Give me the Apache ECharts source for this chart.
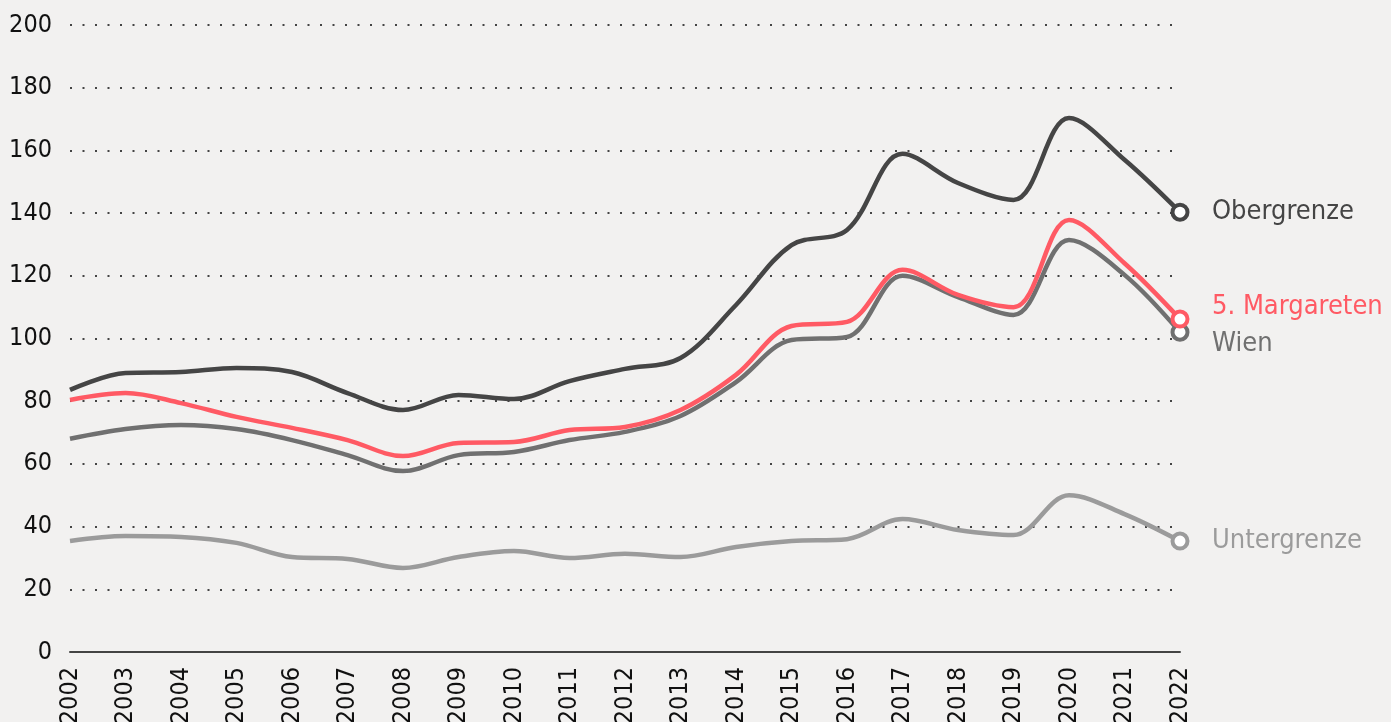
<!DOCTYPE html>
<html>
<head>
<meta charset="utf-8">
<script src="https://cdn.jsdelivr.net/npm/echarts@6/dist/echarts.min.js"></script>
<style>
  html, body { margin: 0; padding: 0; background: #f2f1f0; }
  #chart { width: 1391px; height: 722px; }
</style>
</head>
<body>
<div id="chart"></div>
<script>
const years = ["2002","2003","2004","2005","2006","2007","2008","2009","2010","2011","2012",
  "2013","2014","2015","2016","2017","2018","2019","2020","2021","2022"];

const obergrenze = [83.6, 89, 89.3, 90.6, 89.3, 82.6, 77.2, 82, 80.7, 86.4, 90.3,
  93.8, 110.7, 129.8, 134.6, 158.9, 149.6, 144.2, 170.3, 157, 140.3];
const margareten = [80.4, 82.6, 79.4, 75, 71.5, 67.6, 62.5, 66.7, 67, 70.8, 71.8,
  77.2, 88.4, 104, 105.3, 121.9, 113.9, 110, 137.8, 124, 106.2];
const wien = [68, 71.1, 72.4, 71.1, 67.6, 62.8, 57.7, 62.8, 63.8, 67.6, 70.2,
  75.3, 86.1, 99.5, 100.5, 120, 113.2, 107.5, 131.4, 120.3, 102];
const untergrenze = [35.4, 37, 36.7, 34.8, 30.3, 29.7, 26.8, 30.3, 32.2, 30, 31.3,
  30.3, 33.5, 35.4, 36, 42.4, 38.9, 37.3, 50, 44, 35.4];

const FONT = '"DejaVu Sans Condensed", "DejaVu Sans", sans-serif';

// only the last point gets a ring marker
function withEndMarker(values, color) {
  return values.map((v, i) => i === values.length - 1
    ? { value: v, symbol: 'circle', symbolSize: 15,
        itemStyle: { color: '#fff', borderColor: color, borderWidth: 4 } }
    : v);
}

function makeSeries(name, label, values, color, offsetY) {
  return {
    name: name,
    type: 'line',
    data: withEndMarker(values, color),
    smooth: 0.35,
    symbol: 'none',
    showSymbol: true,
    showAllSymbol: true,
    lineStyle: { color: color, width: 4.5 },
    itemStyle: { color: color },
    emphasis: { disabled: true },
    endLabel: {
      show: true,
      formatter: label,
      color: color,
      fontFamily: FONT,
      fontSize: 27,
      distance: 32,
      offset: [0, offsetY]
    },
    z: 2
  };
}

const chart = echarts.init(document.getElementById('chart'));
chart.setOption({
  backgroundColor: '#f2f1f0',
  animation: false,
  grid: { left: 70, right: 211, top: 25, bottom: 70, outerBoundsMode: 'none' },
  xAxis: {
    type: 'category',
    data: years,
    boundaryGap: false,
    axisLine: { lineStyle: { color: '#444', width: 2 } },
    axisTick: { show: false },
    axisLabel: { rotate: 90, margin: 15, color: '#111', fontFamily: FONT, fontSize: 25, interval: 0 }
  },
  yAxis: {
    type: 'value',
    min: 0,
    max: 200,
    interval: 20,
    axisLine: { show: false },
    axisTick: { show: false },
    axisLabel: { margin: 18, color: '#111', fontFamily: FONT, fontSize: 25 },
    splitLine: { lineStyle: { color: '#444', width: 2, type: [2, 10.5] } }
  },
  series: [
    makeSeries('Untergrenze', 'Untergrenze', untergrenze, '#9b9b9b', 0),
    makeSeries('Obergrenze', 'Obergrenze', obergrenze, '#454545', 0),
    makeSeries('Wien', 'Wien', wien, '#707070', 12),
    makeSeries('Margareten', '5. Margareten', margareten, '#ff5a64', -12)
  ]
});
</script>
</body>
</html>
